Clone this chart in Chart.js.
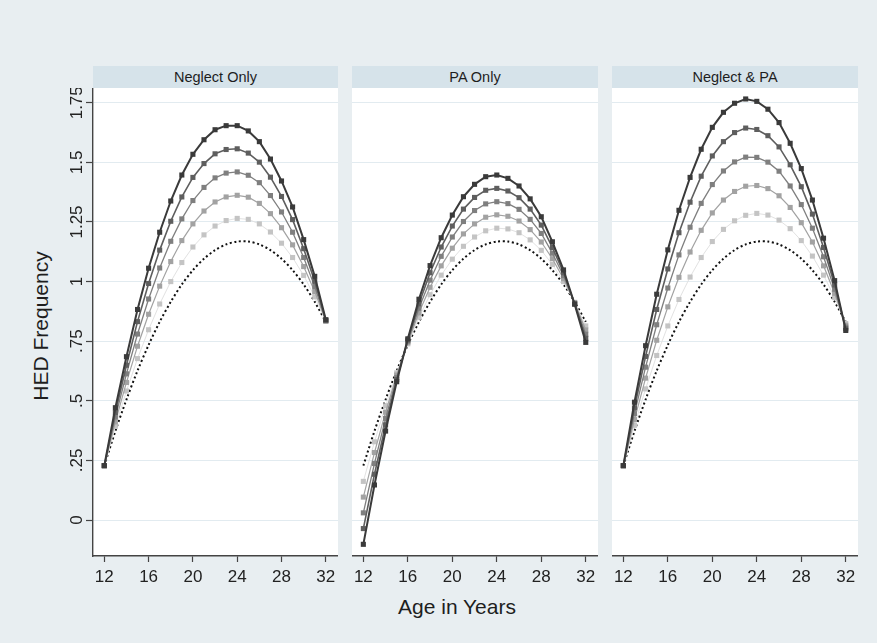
<!DOCTYPE html>
<html>
<head>
<meta charset="utf-8">
<script src="https://cdn.jsdelivr.net/npm/chart.js@4.4.1/dist/chart.umd.min.js"></script>
<style>
  body { margin: 0; width: 877px; height: 643px; overflow: hidden; background: #e8eef1;
         font-family: "Liberation Sans", Arial, sans-serif; color: #222; position: relative; }
  .panel { position: absolute; }
  .strip { position: absolute; top: 66px; height: 22px; line-height: 22px; background: #d6e3ea;
           text-align: center; font-size: 14.5px; color: #1e1e1e; }
  .xtitle { position: absolute; left: 457px; top: 607px; transform: translate(-50%, -50%);
            font-size: 21px; white-space: nowrap; color: #1e1e1e; }
  .ytitle { position: absolute; left: 41px; top: 326px; transform: translate(-50%, -50%) rotate(-90deg);
            font-size: 21px; white-space: nowrap; color: #1e1e1e; }
</style>
</head>
<body>
<div class="strip" style="left:93px;width:245px">Neglect Only</div>
<div class="strip" style="left:352px;width:246px">PA Only</div>
<div class="strip" style="left:612px;width:246px">Neglect &amp; PA</div>
<div class="panel" style="left:60px;top:88px;width:278px;height:501px"><canvas id="c0"></canvas></div>
<div class="panel" style="left:352px;top:88px;width:246px;height:501px"><canvas id="c1"></canvas></div>
<div class="panel" style="left:612px;top:88px;width:246px;height:501px"><canvas id="c2"></canvas></div>
<div class="xtitle">Age in Years</div>
<div class="ytitle">HED Frequency</div>
<script>
// data
const ages = [12,13,14,15,16,17,18,19,20,21,22,23,24,25,26,27,28,29,30,31,32];
const xTicks = [12,16,20,24,28,32];
const yTicks = [0,0.25,0.5,0.75,1,1.25,1.5,1.75];
const yTickLabels = ["0",".25",".5",".75","1","1.25","1.5","1.75"];

// dotted reference curve (same in every panel)
const reference = [0.228,0.373,0.505,0.626,0.734,0.831,0.915,0.988,1.048,1.096,1.132,1.156,1.168,1.168,1.156,1.132,1.096,1.048,0.988,0.915,0.831];

// Neglect Only, darkest (highest) first
const neglect5 = [0.228,0.471,0.685,0.883,1.056,1.207,1.338,1.447,1.534,1.595,1.637,1.654,1.654,1.632,1.587,1.514,1.422,1.313,1.176,1.022,0.840];
const neglect4 = [0.228,0.451,0.649,0.832,0.992,1.132,1.253,1.355,1.437,1.495,1.536,1.554,1.557,1.539,1.501,1.438,1.357,1.260,1.138,1.001,0.838];
const neglect3 = [0.228,0.432,0.613,0.780,0.927,1.057,1.169,1.263,1.340,1.395,1.435,1.455,1.460,1.446,1.415,1.361,1.292,1.207,1.101,0.979,0.836];
const neglect2 = [0.228,0.412,0.577,0.729,0.863,0.981,1.084,1.172,1.242,1.296,1.334,1.355,1.362,1.354,1.328,1.285,1.226,1.154,1.063,0.958,0.835];
const neglect1 = [0.228,0.393,0.541,0.677,0.798,0.906,1.000,1.080,1.145,1.196,1.233,1.256,1.265,1.261,1.242,1.208,1.161,1.101,1.026,0.936,0.833];

// PA Only
const pa5 = [-0.102,0.147,0.373,0.580,0.760,0.926,1.067,1.184,1.279,1.356,1.408,1.440,1.447,1.433,1.401,1.347,1.272,1.167,1.049,0.905,0.745];
const pa4 = [-0.036,0.192,0.399,0.589,0.755,0.907,1.037,1.145,1.233,1.304,1.353,1.383,1.391,1.380,1.352,1.304,1.237,1.143,1.037,0.907,0.762];
const pa3 = [0.030,0.237,0.426,0.598,0.750,0.888,1.006,1.106,1.187,1.252,1.298,1.326,1.335,1.327,1.303,1.261,1.202,1.119,1.025,0.909,0.779];
const pa2 = [0.096,0.283,0.452,0.608,0.744,0.869,0.976,1.066,1.140,1.200,1.242,1.270,1.280,1.274,1.254,1.218,1.166,1.096,1.012,0.911,0.797];
const pa1 = [0.162,0.328,0.479,0.617,0.739,0.850,0.945,1.027,1.094,1.148,1.187,1.213,1.224,1.221,1.205,1.175,1.131,1.072,1.000,0.913,0.814];

// Neglect & PA
const both5 = [0.228,0.494,0.731,0.947,1.133,1.299,1.437,1.555,1.647,1.710,1.748,1.766,1.756,1.723,1.667,1.580,1.474,1.342,1.182,1.004,0.795];
const both4 = [0.228,0.470,0.686,0.883,1.053,1.205,1.333,1.442,1.527,1.587,1.625,1.644,1.638,1.612,1.565,1.490,1.398,1.283,1.143,0.986,0.802];
const both3 = [0.228,0.446,0.641,0.819,0.973,1.112,1.228,1.328,1.407,1.464,1.502,1.522,1.521,1.501,1.463,1.401,1.323,1.224,1.104,0.968,0.809];
const both2 = [0.228,0.421,0.595,0.754,0.894,1.018,1.124,1.215,1.288,1.342,1.378,1.400,1.403,1.390,1.360,1.311,1.247,1.166,1.066,0.951,0.817];
const both1 = [0.228,0.397,0.550,0.690,0.814,0.925,1.019,1.101,1.168,1.219,1.255,1.278,1.286,1.279,1.258,1.222,1.172,1.107,1.027,0.933,0.824];

const panels = [
  [neglect5, neglect4, neglect3, neglect2, neglect1],
  [pa5, pa4, pa3, pa2, pa1],
  [both5, both4, both3, both2, both1]
];

// styles
const lineColors = ["#3a3a3a", "#5e5e5e", "#7f7f7f", "#a2a2a2", "#e2e2e2"];
const markerColors = ["#3a3a3a", "#5e5e5e", "#7f7f7f", "#a2a2a2", "#c4c4c4"];
const lineWidths = [2, 1.6, 1.3, 1.2, 1];
const FONT = '"Liberation Sans", Arial, sans-serif';

const toPoints = vals => ages.map((a, i) => ({ x: a, y: vals[i] }));

// white plot region
const plotBackground = {
  id: "plotBackground",
  beforeDraw(chart) {
    const a = chart.chartArea;
    const ctx = chart.ctx;
    ctx.save();
    ctx.fillStyle = "#ffffff";
    ctx.fillRect(a.left, a.top, a.right - a.left, a.bottom - a.top);
    ctx.restore();
  }
};

// y tick labels drawn rotated, like Stata
const rotatedYLabels = {
  id: "rotatedYLabels",
  afterDraw(chart) {
    const y = chart.scales.y;
    const ctx = chart.ctx;
    ctx.save();
    ctx.font = "17px " + FONT;
    ctx.fillStyle = "#222";
    ctx.textAlign = "center";
    ctx.textBaseline = "middle";
    yTicks.forEach((v, i) => {
      ctx.save();
      ctx.translate(chart.chartArea.left - 16, y.getPixelForValue(v));
      ctx.rotate(-Math.PI / 2);
      ctx.fillText(yTickLabels[i], 0, 0);
      ctx.restore();
    });
    ctx.restore();
  }
};

panels.forEach((series, p) => {
  const first = p === 0;
  const datasets = series.map((vals, k) => ({
    data: toPoints(vals),
    borderColor: lineColors[k],
    backgroundColor: markerColors[k],
    pointBackgroundColor: markerColors[k],
    pointBorderColor: markerColors[k],
    borderWidth: lineWidths[k],
    pointStyle: "rect",
    pointRadius: 3.6,
    pointBorderWidth: 0,
    tension: 0
  }));
  datasets.push({
    data: toPoints(reference),
    borderColor: "#111",
    borderWidth: 2,
    borderDash: [2, 2.6],
    pointRadius: 0,
    tension: 0.3
  });

  new Chart(document.getElementById("c" + p), {
    type: "line",
    data: { datasets },
    options: {
      responsive: true,
      maintainAspectRatio: false,
      animation: false,
      layout: { autoPadding: false, padding: { left: first ? 26 : 0, right: 0, top: 0, bottom: 0 } },
      plugins: { legend: { display: false }, tooltip: { enabled: false } },
      scales: {
        x: {
          type: "linear",
          min: 10.98,
          max: 33.1,
          afterBuildTicks: s => { s.ticks = xTicks.map(v => ({ value: v })); },
          afterFit: s => { s.height = 33; s.paddingLeft = 0; s.paddingRight = 0; },
          grid: { drawOnChartArea: false, drawTicks: true, tickLength: 6, tickColor: "#444", tickWidth: 1.2 },
          border: { display: true, color: "#444", width: 1.4 },
          ticks: { font: { size: 17, family: FONT }, color: "#222", padding: 5, maxRotation: 0 }
        },
        y: {
          type: "linear",
          min: -0.151,
          max: 1.812,
          afterBuildTicks: s => { s.ticks = yTicks.map(v => ({ value: v })); },
          afterFit: s => { s.width = first ? 7 : 0; s.paddingTop = 0; s.paddingBottom = 0; },
          grid: { color: "#e2ebf0", lineWidth: 1, drawTicks: first, tickLength: 7, tickColor: "#444", tickWidth: 1.2 },
          border: { display: first, color: "#444", width: 1.4 },
          ticks: { display: false }
        }
      }
    },
    plugins: first ? [plotBackground, rotatedYLabels] : [plotBackground]
  });
});
</script>
</body>
</html>
